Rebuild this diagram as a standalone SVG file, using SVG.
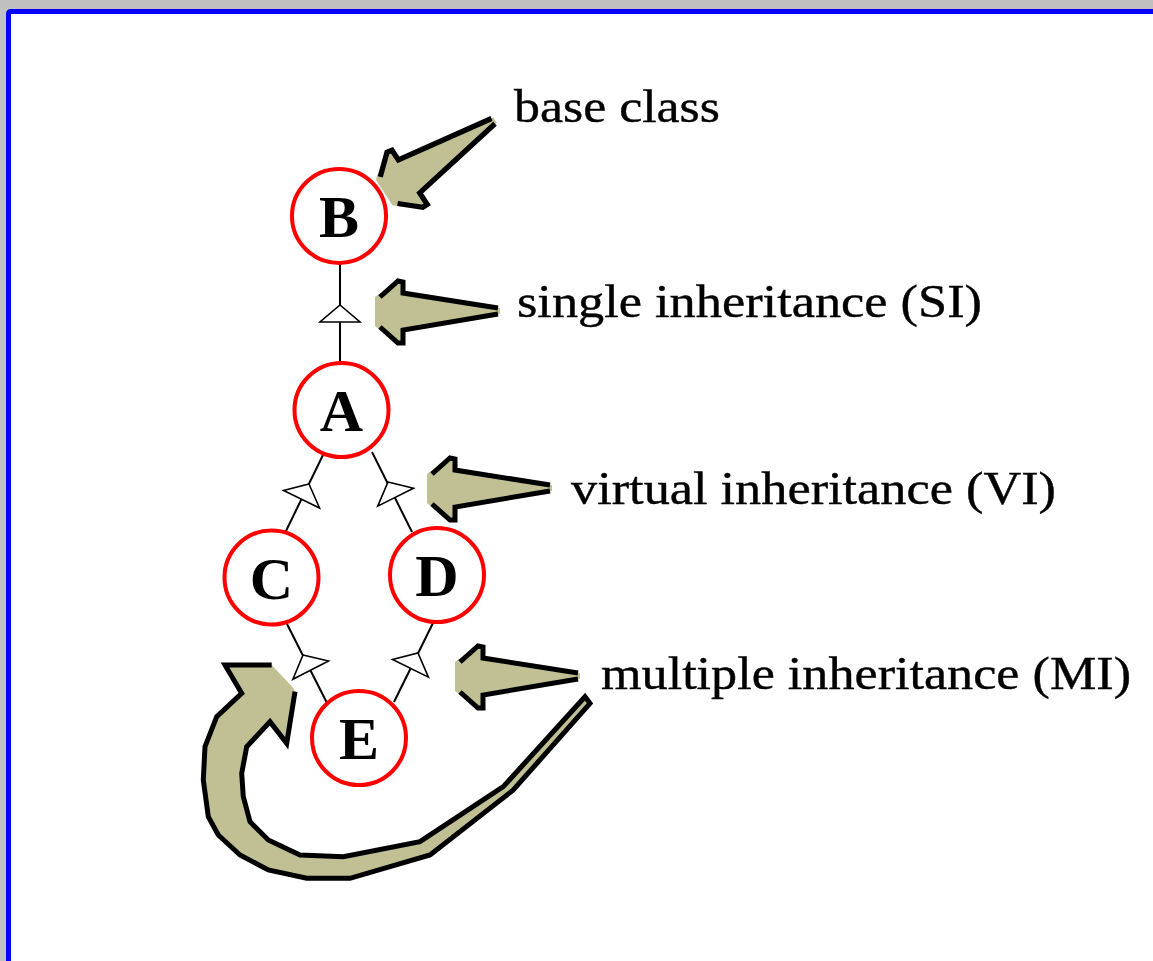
<svg xmlns="http://www.w3.org/2000/svg" width="1153" height="961" viewBox="0 0 1153 961">
  <style>
    .node circle { fill: #ffffff; stroke: #ff0000; stroke-width: 4; }
    .node text { font-family: "Liberation Serif", "Times New Roman", serif; font-weight: bold; font-size: 60px; text-anchor: middle; fill: #000000; }
    .label { font-family: "Liberation Serif", "Times New Roman", serif; font-size: 47px; fill: #000000; stroke: #000000; stroke-width: 0.4; }
    .edge { stroke: #000000; stroke-width: 2; fill: none; }
    .head { fill: #ffffff; stroke: #000000; stroke-width: 1.6; stroke-linejoin: miter; }
    .khaki { fill: #c0c094; stroke: none; }
    .outline { fill: none; stroke: #000000; stroke-width: 5; stroke-linejoin: miter; stroke-linecap: butt; }
  </style>
  <defs>
    <!-- hollow generalization triangle, apex at origin pointing up -->
    <path id="tri" class="head" d="M0,0 L20,17 L-20,17 Z"/>
    <!-- blunt block arrow, tail at origin, pointing to -x -->
    <g id="block">
      <polygon class="khaki" points="-125,-14 -102,-31 -97,-30 -97,-18 0,-3 0,3 -97,19 -97,32 -102,33 -125,15"/>
      <polyline class="outline" points="-120,-14 -102,-30 -97,-29 -97,-18 -2,-3"/>
      <polyline class="outline" points="-2,3 -97,19 -97,32 -102,32 -120,16"/>
    </g>
  </defs>

  <!-- frame -->
  <rect x="0" y="0" width="1153" height="961" fill="#c0c0c0"/>
  <rect x="8.5" y="11.5" width="1200" height="1000" rx="2" fill="#ffffff" stroke="#0000ff" stroke-width="5"/>

  <!-- connectors -->
  <g id="connectors">
    <line class="edge" x1="340" y1="264" x2="340" y2="362"/>
    <line class="edge" x1="323" y1="455" x2="285" y2="533"/>
    <line class="edge" x1="372" y1="452" x2="412" y2="532"/>
    <line class="edge" x1="287" y1="624" x2="327" y2="703"/>
    <line class="edge" x1="433" y1="623" x2="394" y2="702"/>
    <use href="#tri" transform="translate(340,305)"/>
    <use href="#tri" transform="translate(309,484) rotate(26)"/>
    <use href="#tri" transform="translate(388,482) rotate(-26.6)"/>
    <use href="#tri" transform="translate(303,655) rotate(-27)"/>
    <use href="#tri" transform="translate(418,653) rotate(26.3)"/>
  </g>

  <!-- class nodes -->
  <g id="node-B" class="node"><circle cx="339" cy="216" r="47"/><text x="339" y="237">B</text></g>
  <g id="node-A" class="node"><circle cx="341.5" cy="410" r="47"/><text x="341.5" y="431">A</text></g>
  <g id="node-C" class="node"><circle cx="271.5" cy="577.5" r="47"/><text x="271.5" y="598.5">C</text></g>
  <g id="node-D" class="node"><circle cx="437" cy="575" r="47"/><text x="437" y="596">D</text></g>
  <g id="node-E" class="node"><circle cx="359" cy="738" r="47"/><text x="359" y="759">E</text></g>

  <!-- callout arrows -->
  <g id="callouts">
    <use href="#block" transform="translate(495,120) rotate(-33) scale(1.06)"/>
    <use href="#block" transform="translate(500,311)"/>
    <use href="#block" transform="translate(552,488)"/>
    <use href="#block" transform="translate(580,676)"/>
    <!-- curved arrow sweeping from the MI label round to the C/E link -->
    <polygon class="khaki" points="225,665 271.7,665 293.3,688 295,691.7 286.7,743.3 270,721.7 246.7,746.7 241.7,773.3 243.3,796.7 250,821.7 268.3,840 300,855 343.3,856.7 420,841.7 503.3,786.7 585,696.7 590,703.3 513.3,790 430,855 350,878.3 306.7,878.3 268.3,870 240,855 218.3,835 208.3,816.7 203.3,780 205,746.7 216.7,716.7 241.7,693.3"/>
    <polyline class="outline" points="271.7,665 225,665 241.7,693.3 216.7,716.7 205,746.7 203.3,780 208.3,816.7 218.3,835 240,855 268.3,870 306.7,878.3 350,878.3 430,855 513.3,790 590,703.3 585,696.7 503.3,786.7 420,841.7 343.3,856.7 300,855 268.3,840 250,821.7 243.3,796.7 241.7,773.3 246.7,746.7 270,721.7 286.7,743.3 295,691.7"/>
  </g>

  <!-- labels -->
  <g id="labels">
    <text class="label" x="514" y="122" textLength="206" lengthAdjust="spacingAndGlyphs">base class</text>
    <text class="label" x="517" y="317" textLength="465" lengthAdjust="spacingAndGlyphs">single inheritance (SI)</text>
    <text class="label" x="571" y="504" textLength="485" lengthAdjust="spacingAndGlyphs">virtual inheritance (VI)</text>
    <text class="label" x="601" y="689" textLength="530" lengthAdjust="spacingAndGlyphs">multiple inheritance (MI)</text>
  </g>
</svg>
